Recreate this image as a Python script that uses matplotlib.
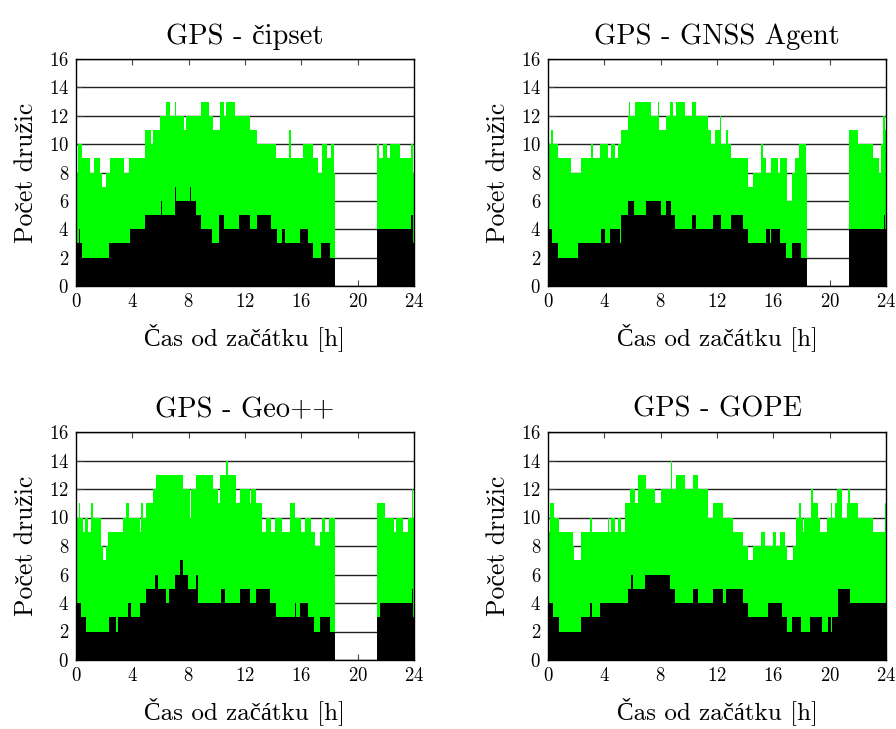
import numpy as np
import matplotlib
matplotlib.use("Agg")
import matplotlib.pyplot as plt

plt.rcParams['font.family'] = ['cmr10', 'Liberation Serif', 'DejaVu Serif']
plt.rcParams['axes.formatter.use_mathtext'] = True
plt.rcParams['mathtext.fontset'] = 'cm'

nan = np.nan

titles = ["GPS - čipset", "GPS - GNSS Agent", "GPS - Geo++", "GPS - GOPE"]
xlabel = "Čas od začátku [h]"
ylabel = "Počet družic"
xticks = [0, 4, 8, 12, 16, 20, 24]
yticks = [0, 2, 4, 6, 8, 10, 12, 14, 16]

# ---- GPS - čipset ----
cipset_green_t = [0, 0.15, 0.4, 1.0, 1.3, 1.7, 1.87, 2.1, 2.4, 3.4, 3.6, 3.65, 3.75, 4.9, 5.35, 5.5,
                  5.95, 6.4, 6.65, 7.0, 7.1, 7.7, 7.8, 8.9, 9.45, 9.73, 10.2, 10.5, 10.67, 11.27,
                  12.33, 12.85, 14.2, 15.15, 15.25, 16.1, 16.8, 17.2, 17.5, 17.85, 18.1, 18.3,
                  18.41, 21.35, 21.55, 21.8, 22.05, 22.3, 23.0, 23.8, 23.92]
cipset_green_v = [8, 10, 9, 8, 9, 8, 7, 8, 9, 8, 7, 8, 9, 11, 10, 11,
                  12, 13, 12, 13, 12, 11, 12, 13, 12, 11, 13, 12, 13, 12,
                  11, 10, 9, 11, 9, 10, 9, 8, 10, 9, 10, 8,
                  nan, 10, 9, 10, 9, 10, 9, 10, 8]
cipset_black_t = [0, 0.2, 0.3, 0.4, 2.35, 3.8, 4.9, 6.0, 6.1, 7.0, 7.1, 8.1, 8.2, 8.5, 8.9, 9.64,
                  10.15, 10.5, 11.6, 12.36, 12.83, 13.83, 14.25, 14.6, 14.85, 15.9, 16.5, 16.8,
                  17.4, 18.0, 18.41, 21.35, 23.8, 23.9]
cipset_black_v = [3, 4, 3, 2, 3, 4, 5, 6, 5, 7, 6, 7, 6, 5, 4, 3,
                  5, 4, 5, 4, 5, 4, 3, 4, 3, 4, 3, 2,
                  3, 2, nan, 4, 5, 3]

# ---- GPS - GNSS Agent ----
agent_green_t = [0, 0.24, 0.36, 0.71, 1.66, 2.37, 3.08, 3.2, 3.67, 4.26, 4.5, 4.73, 4.97, 5.2, 5.68,
                 5.75, 5.85, 6.15, 7.3, 7.8, 7.9, 8.4, 8.64, 8.88, 9.1, 9.7, 10.2, 10.5, 11.36,
                 11.6, 11.83, 12.2, 12.3, 12.66, 12.78, 13.0, 14.2, 14.55, 15.1, 15.25, 15.5,
                 15.86, 16.33, 16.5, 16.95, 17.35, 17.55, 17.85, 18.35, 18.41, 21.37, 22.0,
                 23.08, 23.5, 23.65, 23.8, 23.9]
agent_green_v = [10, 11, 10, 9, 8, 9, 10, 9, 10, 9, 10, 9, 10, 11, 12,
                 13, 12, 13, 12, 13, 11, 12, 13, 12, 13, 12, 13, 12, 11,
                 10, 11, 12, 10, 11, 10, 9, 7, 8, 10, 9, 8,
                 9, 8, 9, 6, 8, 9, 10, 8, nan, 11, 10,
                 9, 8, 10, 12, 11]
agent_black_t = [0, 0.31, 0.73, 2.15, 3.79, 4.02, 4.4, 5.1, 5.2, 5.68, 6.08, 6.95, 8.05, 8.4, 8.75,
                 9.0, 10.2, 10.53, 11.7, 12.3, 13.0, 13.85, 14.2, 15.5, 15.74, 15.86, 16.5, 16.9,
                 17.3, 17.99, 18.41, 21.37, 23.88, 23.95]
agent_black_v = [4, 3, 2, 3, 4, 3, 4, 3, 5, 6, 5, 6, 5, 6, 5,
                 4, 5, 4, 5, 4, 5, 4, 3, 4, 3, 4, 3, 2,
                 3, 2, nan, 4, 5, 4]

# ---- GPS - Geo++ ----
geo_green_t = [0, 0.21, 0.31, 0.5, 0.62, 0.85, 1.09, 1.2, 1.8, 1.92, 2.15, 2.27, 3.34, 3.57, 3.74,
               4.52, 4.64, 4.76, 5.0, 5.5, 5.7, 7.6, 8.07, 8.2, 8.54, 9.73, 10.08, 10.2, 10.67,
               10.79, 11.38, 11.62, 12.33, 12.45, 12.76, 13.24, 13.52, 13.87, 14.1, 14.65, 15.17,
               15.53, 16.0, 16.24, 16.71, 16.95, 17.35, 17.47, 17.66, 17.97, 18.37, 18.41,
               21.37, 21.96, 22.6, 22.75, 23.2, 23.57, 23.85, 23.95]
geo_green_v = [10, 11, 10, 9, 10, 9, 11, 10, 8, 7, 8, 9, 10, 11, 10,
               9, 11, 10, 11, 12, 13, 12, 10, 12, 13, 12, 11, 13, 14,
               13, 11, 12, 11, 12, 11, 9, 10, 9, 10, 9, 11,
               10, 9, 10, 9, 8, 9, 10, 9, 10, 9, nan,
               11, 10, 9, 10, 9, 10, 12, 10]
geo_black_t = [0, 0.1, 0.35, 0.73, 2.34, 2.86, 2.98, 3.69, 3.88, 4.52, 5.0, 5.59, 5.82, 6.41, 6.6,
               7.0, 7.36, 7.6, 7.95, 8.54, 8.66, 10.32, 10.56, 11.62, 12.33, 12.8, 13.75, 14.22,
               15.53, 15.65, 15.88, 16.47, 16.9, 17.3, 18.0, 18.41, 21.37, 21.6, 23.85, 23.95]
geo_black_v = [3, 4, 3, 2, 3, 2, 3, 4, 3, 4, 5, 6, 5, 4, 5,
               6, 7, 6, 5, 6, 4, 5, 4, 5, 4, 5, 4, 3,
               4, 3, 4, 3, 2, 3, 2, nan, 3, 4, 5, 3]

# ---- GPS - GOPE ----
gope_green_t = [0, 0.12, 0.43, 0.78, 1.78, 1.85, 2.32, 3.0, 3.12, 4.26, 4.36, 4.5, 4.73, 4.97, 5.2,
                5.44, 5.8, 6.15, 6.39, 6.98, 7.57, 8.05, 8.7, 8.8, 9.11, 9.7, 10.3, 10.65, 11.36,
                11.72, 12.43, 13.14, 13.85, 14.2, 14.56, 15.15, 15.38, 15.98, 16.21, 16.45, 16.8,
                17.0, 17.38, 17.59, 17.8, 17.94, 18.1, 18.2, 18.7, 18.82, 19.17, 19.34, 19.81,
                20.1, 20.2, 20.4, 20.5, 20.9, 21.2, 21.3, 21.42, 22.0, 23.08, 23.9]
gope_green_v = [9, 11, 10, 9, 8, 7, 9, 10, 9, 10, 9, 10, 9, 10, 9,
                11, 12, 11, 13, 12, 11, 12, 14, 12, 13, 12, 13, 12, 10,
                11, 10, 9, 8, 7, 8, 9, 8, 9, 8, 9, 8,
                7, 8, 10, 11, 10, 9, 10, 12, 11, 10, 9, 10,
                11, 10, 11, 12, 10, 11, 12, 11, 10, 9, 11]
gope_black_t = [0, 0.36, 0.78, 2.32, 2.96, 3.12, 3.67, 5.68, 5.87, 6.04, 6.86, 8.64, 9.0, 10.3,
                10.65, 11.72, 12.4, 12.62, 13.87, 14.23, 15.65, 16.6, 16.95, 17.35, 17.96, 18.6,
                19.44, 19.91, 20.1, 20.2, 20.57, 21.45]
gope_black_v = [4, 3, 2, 3, 4, 3, 4, 5, 6, 5, 6, 5, 4, 5,
                4, 5, 4, 5, 4, 3, 4, 3, 2, 3, 2, 3,
                2, 3, 2, 3, 5, 4]

panels = [
    (cipset_green_t, cipset_green_v, cipset_black_t, cipset_black_v),
    (agent_green_t, agent_green_v, agent_black_t, agent_black_v),
    (geo_green_t, geo_green_v, geo_black_t, geo_black_v),
    (gope_green_t, gope_green_v, gope_black_t, gope_black_v),
]

W, H = 896, 729
fig = plt.figure(figsize=(W / 100, H / 100), dpi=100)

boxes = [(76, 59, 414, 286), (548, 59, 886, 286), (76, 432, 414, 660), (548, 432, 886, 660)]

for (x0, y0, x1, y1), title, (gt, gv, bt, bv) in zip(boxes, titles, panels):
    ax = fig.add_axes([x0 / W, 1 - y1 / H, (x1 - x0) / W, (y1 - y0) / H])
    ax.set_axisbelow(True)
    ax.grid(axis='y', color='#222222', linewidth=1.0)
    ax.stairs(np.nan_to_num(np.array(gv, float)), list(gt) + [24], fill=True,
              color='#00ff00', baseline=0, linewidth=0)
    ax.stairs(np.nan_to_num(np.array(bv, float)), list(bt) + [24], fill=True,
              color='black', baseline=0, linewidth=0)
    ax.set_xlim(0, 24)
    ax.set_ylim(0, 16)
    ax.set_xticks(xticks)
    ax.set_yticks(yticks)
    ax.tick_params(direction='in', top=True, right=False, length=4, width=0.8,
                   labelsize=13.5, pad=5, color='#444444')
    for s in ax.spines.values():
        s.set_linewidth(1.0)
    ax.set_title(title, fontsize=20.5, pad=11)
    ax.set_xlabel(xlabel, fontsize=18, labelpad=9)
    ax.set_ylabel(ylabel, fontsize=18.5, labelpad=8)

fig.savefig("out.png", dpi=100)
